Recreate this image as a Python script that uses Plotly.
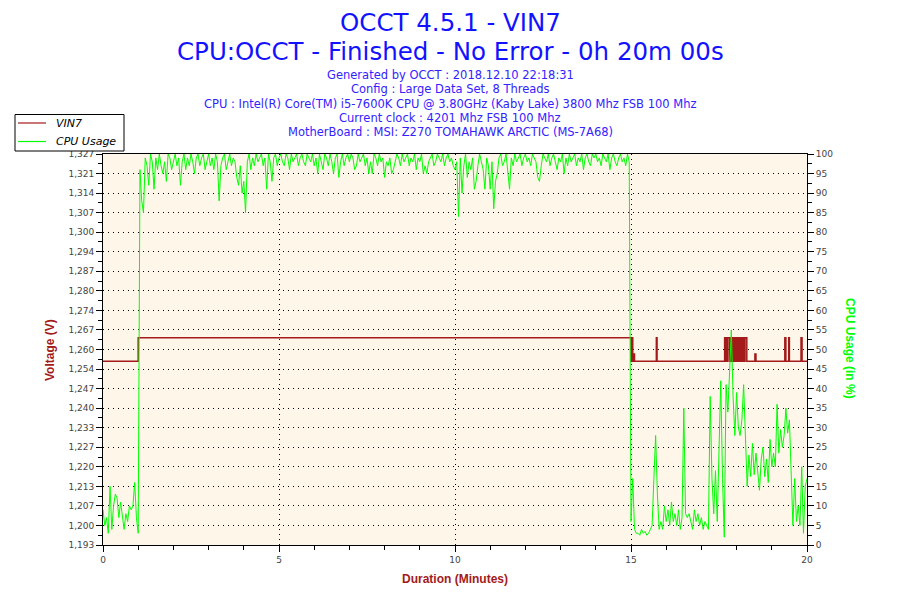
import numpy as np
import plotly.graph_objects as go

# CPU usage (%), one sample every 0.05 min, 0 -> 20 min (one row per minute)
sample_min = 0.05
cpu_usage = [
    9, 5, 7, 3, 15, 4, 10, 13, 12, 7, 11, 7, 4, 8, 6, 10, 9, 10, 16, 7,
    3, 96, 88, 85, 99, 97, 92, 100, 98, 91, 99, 96, 100, 97, 95, 98, 93, 100, 99, 96,
    98, 100, 97, 99, 92, 98, 100, 96, 99, 97, 100, 98, 95, 99, 100, 97, 99, 100, 96, 98,
    100, 97, 99, 96, 100, 98, 88, 97, 99, 100, 96, 98, 100, 97, 99, 98, 94, 92, 97, 90,
    93, 85, 98, 100, 96, 99, 97, 100, 98, 99, 100, 97, 99, 91, 100, 98, 93, 99, 100, 97,
    99, 100, 98, 97, 100, 99, 96, 100, 98, 99, 100, 97, 99, 100, 98, 97, 100, 99, 98, 100,
    97, 99, 95, 100, 98, 96, 100, 99, 97, 100, 98, 95, 99, 100, 94, 98, 100, 97, 99, 100,
    98, 100, 99, 96, 97, 100, 98, 99, 100, 97, 99, 95, 98, 95, 100, 99, 97, 100, 98, 99,
    94, 98, 97, 99, 95, 96, 98, 100, 99, 97, 100, 98, 99, 100, 97, 99, 98, 100, 96, 99,
    98, 100, 95, 97, 95, 98, 99, 100, 97, 98, 100, 99, 98, 100, 97, 99, 100, 98, 99, 97,
    96, 98, 84, 99, 90, 97, 100, 94, 98, 96, 99, 91, 93, 97, 100, 98, 96, 91, 99, 97,
    91, 98, 86, 93, 95, 99, 100, 97, 98, 100, 96, 91, 99, 97, 100, 98, 99, 100, 97, 99,
    100, 98, 99, 97, 100, 99, 98, 94, 93, 97, 100, 99, 98, 100, 97, 99, 100, 98, 96, 99,
    98, 100, 95, 99, 97, 100, 98, 99, 100, 97, 99, 98, 100, 96, 99, 100, 98, 97, 100, 99,
    100, 98, 99, 97, 100, 99, 98, 100, 96, 99, 100, 98, 97, 99, 100, 98, 99, 97, 100, 98,
    6, 17, 4, 3, 3, 2.5, 4, 3, 3.5, 2.5, 3, 4, 5, 17, 28, 13, 4, 6, 4, 10,
    6, 9, 5, 11, 6, 8, 5, 9, 4, 7, 35, 8, 7, 8, 6, 4, 9, 6, 8, 5,
    7, 4, 6, 5, 4, 38, 17, 8, 19, 6, 25, 42, 17, 2, 41, 34, 44, 55, 38, 28,
    39, 30, 28, 32, 41, 29, 15, 23, 17.5, 26, 18, 23.5, 17.5, 14, 22, 25, 17.5, 22, 16, 27,
    20, 23.5, 20, 36, 23.5, 29.5, 25, 28, 35, 28.6, 32, 18, 5, 17, 6, 10, 5, 20, 3, 15,
    17,
]

# VIN7 (V): step changes (minute, value)
vin7_time = [0, 1.0, 15.0, 15.03, 15.05, 15.08, 15.10, 15.72, 15.74,
             17.66, 17.68, 17.70, 17.73, 17.75, 17.80, 17.82, 17.84, 17.87, 17.89,
             17.92, 17.94, 17.97, 17.99, 18.02, 18.04, 18.07, 18.10, 18.13, 18.16,
             18.19, 18.21, 18.24, 18.29, 18.52, 18.55, 19.37, 19.40, 19.48, 19.50,
             19.83, 19.86, 20.0]
vin7_volt = [1.256, 1.264, 1.256, 1.264, 1.256, 1.2585, 1.256, 1.264, 1.256,
             1.264, 1.256, 1.264, 1.256, 1.264, 1.256, 1.264, 1.256, 1.264, 1.256,
             1.264, 1.256, 1.264, 1.256, 1.264, 1.256, 1.264, 1.256, 1.264, 1.256,
             1.264, 1.256, 1.264, 1.256, 1.2585, 1.256, 1.264, 1.256, 1.264, 1.256,
             1.264, 1.256, 1.256]

volt_labels = ['1,193', '1,200', '1,207', '1,213', '1,220', '1,227', '1,233',
               '1,240', '1,247', '1,254', '1,260', '1,267', '1,274', '1,280',
               '1,287', '1,294', '1,300', '1,307', '1,314', '1,321', '1,327']
volt_min, volt_max = 1.193, 1.327

header_lines = [
    'Generated by OCCT : 2018.12.10 22:18:31',
    'Config : Large Data Set, 8 Threads',
    'CPU : Intel(R) Core(TM) i5-7600K CPU @ 3.80GHz (Kaby Lake) 3800 Mhz FSB 100 Mhz',
    'Current clock : 4201 Mhz FSB 100 Mhz',
    'MotherBoard : MSI: Z270 TOMAHAWK ARCTIC (MS-7A68)',
]

RED = '#A31A1A'
GREEN = '#00FF00'
BLUE = '#1212FF'
FONT = 'DejaVu Sans'

# the page body adds an 8px margin, so the figure is drawn 8px smaller
PAGE_PAD = 8
W, H = 900 - PAGE_PAD, 600 - PAGE_PAD
# plot area in window pixels
L, R, T, B = 103, 807, 154, 545


def px_x(px):
    return (px - L) / (R - L)


def px_y(py):
    return (B - py) / (B - T)


minutes = np.arange(len(cpu_usage)) * sample_min

fig = go.Figure()
fig.add_trace(go.Scatter(x=vin7_time, y=vin7_volt, name='VIN7', mode='lines',
                         line=dict(color=RED, width=1.5, shape='hv'), yaxis='y'))
fig.add_trace(go.Scatter(x=minutes, y=cpu_usage, name='CPU Usage', mode='lines',
                         line=dict(color=GREEN, width=1), yaxis='y2'))

grid = dict(showgrid=True, gridcolor='black', gridwidth=1, griddash='1px,4px')
tickfont = dict(family=FONT, size=9, color='#444')

fig.update_layout(
    width=W, height=H,
    margin=dict(l=L - PAGE_PAD, r=900 - R, t=T - PAGE_PAD, b=600 - B, autoexpand=False),
    paper_bgcolor='white',
    plot_bgcolor='#FDF6E9',
    showlegend=False,
    xaxis=dict(range=[0, 20], tickvals=[0, 5, 10, 15, 20], ticks='outside', ticklen=6,
               tickcolor='black', showline=True, linecolor='black', linewidth=1,
               mirror=True, zeroline=False, tickfont=tickfont,
               minor=dict(dtick=1, ticks='outside', ticklen=4, tickcolor='black'),
               **grid),
    yaxis=dict(range=[volt_min, volt_max],
               tickvals=list(np.linspace(volt_min, volt_max, len(volt_labels))),
               ticktext=volt_labels, ticks='outside', ticklen=6, tickcolor='black',
               showline=True, linecolor='black', linewidth=1, zeroline=False,
               tickfont=tickfont,
               minor=dict(tick0=volt_min, dtick=(volt_max - volt_min) / 40,
                          ticks='outside', ticklen=4, tickcolor='black'),
               **grid),
    yaxis2=dict(range=[0, 100], dtick=5, side='right', overlaying='y',
                ticks='outside', ticklen=6, tickcolor='black', showline=True,
                linecolor='black', linewidth=1, showgrid=False, zeroline=False,
                tickfont=tickfont,
                minor=dict(dtick=2.5, ticks='outside', ticklen=4, tickcolor='black')),
)

# legend box drawn by hand (OCCT style)
legend_items = [('VIN7', RED, 123), ('CPU Usage', GREEN, 141.5)]
shapes = [dict(type='rect', xref='paper', yref='paper', layer='above',
               x0=px_x(15), x1=px_x(124), y0=px_y(151), y1=px_y(114.5),
               fillcolor='white', line=dict(color='black', width=1))]
for name, color, ypx in legend_items:
    shapes.append(dict(type='line', xref='paper', yref='paper', layer='above',
                       x0=px_x(18), x1=px_x(46), y0=px_y(ypx), y1=px_y(ypx),
                       line=dict(color=color, width=1.2)))
fig.update_layout(shapes=shapes)

annotations = [
    dict(text='OCCT 4.5.1 - VIN7', x=px_x(450), y=px_y(22.5), borderpad=0,
         font=dict(family=FONT, size=24.5, color=BLUE)),
    dict(text='CPU:OCCT - Finished - No Error - 0h 20m 00s', x=px_x(450), y=px_y(51),
         borderpad=0, font=dict(family=FONT, size=24.5, color=BLUE)),
]
for i, line in enumerate(header_lines):
    annotations.append(dict(text=line, x=px_x(450), y=px_y(75 + i * 14.3),
                            font=dict(family=FONT, size=11.5, color='#3322FF')))
for name, color, ypx in legend_items:
    annotations.append(dict(text=name, x=px_x(54), y=px_y(ypx), xanchor='left',
                            font=dict(family=FONT, size=11, color='black',
                                      style='italic')))
annotations += [
    dict(text='<b>Voltage (V)</b>', x=px_x(50), y=px_y(350), textangle=-90,
         font=dict(family='Liberation Sans', size=12, color=RED)),
    dict(text='<b>CPU Usage (in %)</b>', x=px_x(850), y=px_y(348), textangle=90,
         font=dict(family='Liberation Sans', size=12, color=GREEN)),
    dict(text='<b>Duration (Minutes)</b>', x=px_x(455), y=px_y(579),
         font=dict(family='Liberation Sans', size=12, color=RED)),
]
for a in annotations:
    a.setdefault('xanchor', 'center')
    a.setdefault('yanchor', 'middle')
    a.update(xref='paper', yref='paper', showarrow=False)
fig.update_layout(annotations=annotations)

fig.write_html('out.html')
